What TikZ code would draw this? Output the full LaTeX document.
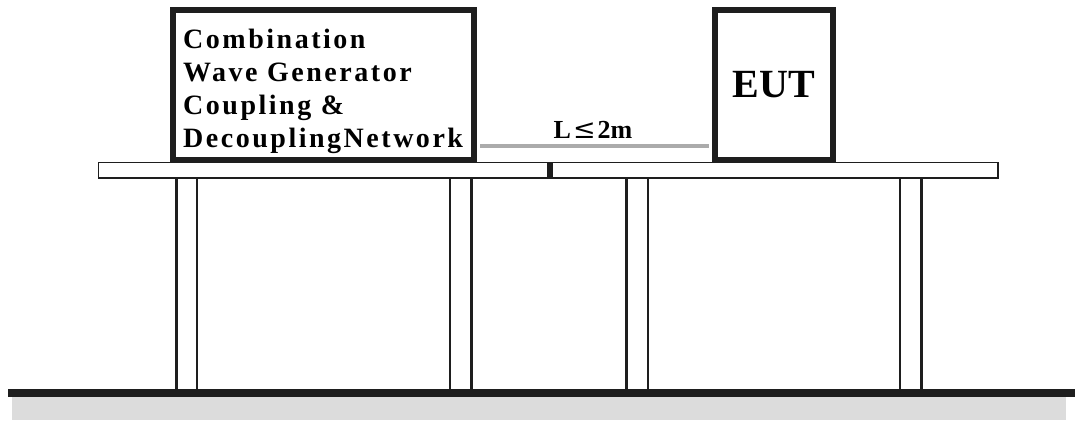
\documentclass[tikz,border=0pt]{standalone}
\usepackage{fontspec}
\setmainfont{Liberation Serif}
\newfontfamily\symfont{DejaVu Serif}
\definecolor{ink}{HTML}{1E1E1E}
\definecolor{cablegray}{HTML}{ABABAB}
\definecolor{floorgray}{HTML}{DCDCDC}
\begin{document}
\begin{tikzpicture}[x=1pt,y=-1pt,
  unitbox/.style={draw=ink, line width=6pt, fill=white, inner sep=0pt},
  plank/.style={draw=ink, line width=1.2pt, fill=white},
  legthick/.style={draw=ink, line width=3pt},
  legthin/.style={draw=ink, line width=1.5pt},
  cable/.style={draw=cablegray, line width=4.5pt},
  boxtext/.style={font=\fontsize{28}{33}\selectfont\bfseries\addfontfeatures{LetterSpace=9}, align=left, inner sep=0pt, anchor=base west}]
\useasboundingbox (0,0) rectangle (1075,420);
% floor
\fill[floorgray] (12,397) rectangle (1066,420);
\fill[ink] (8,389) rectangle (1075,397);
% legs
\foreach \a/\b in {176/197, 626/648}{
  \draw[legthick] (\a,178) -- (\a,389);
  \draw[legthin] (\b,178) -- (\b,389);
}
\foreach \a/\b in {450/471, 900/921}{
  \draw[legthin] (\a,178) -- (\a,389);
  \draw[legthick] (\b,178) -- (\b,389);
}
% table tops
\draw[plank] (98.5,162.5) rectangle (548,178);
\draw[plank] (552,162.5) rectangle (998,178);
\fill[ink] (547,162) rectangle (553,178.5);
% units
\node[unitbox, minimum width=301pt, minimum height=150pt] (cwg) at (323.5,85) {};
\node[boxtext] (cwgtext) at (183,147) {Combination\\Wave Generator\\Coupling \&\\DecouplingNetwork};
\node[unitbox, minimum width=118pt, minimum height=150pt, font=\fontsize{40}{42}\selectfont\bfseries] (eut) at (774,85) {EUT};
% cable
\coordinate (cabA) at (cwg.east |- 0,146);
\coordinate (cabB) at (eut.west |- 0,146);
\draw[cable] ([xshift=3pt]cabA) -- ([xshift=-3pt]cabB);
\node[font=\fontsize{26}{28}\selectfont\bfseries, anchor=base] (len) at (593,138) {L\kern2pt{\symfont\mdseries\fontsize{27}{28}\selectfont ≤}\kern2pt 2m};
\end{tikzpicture}
\end{document}
